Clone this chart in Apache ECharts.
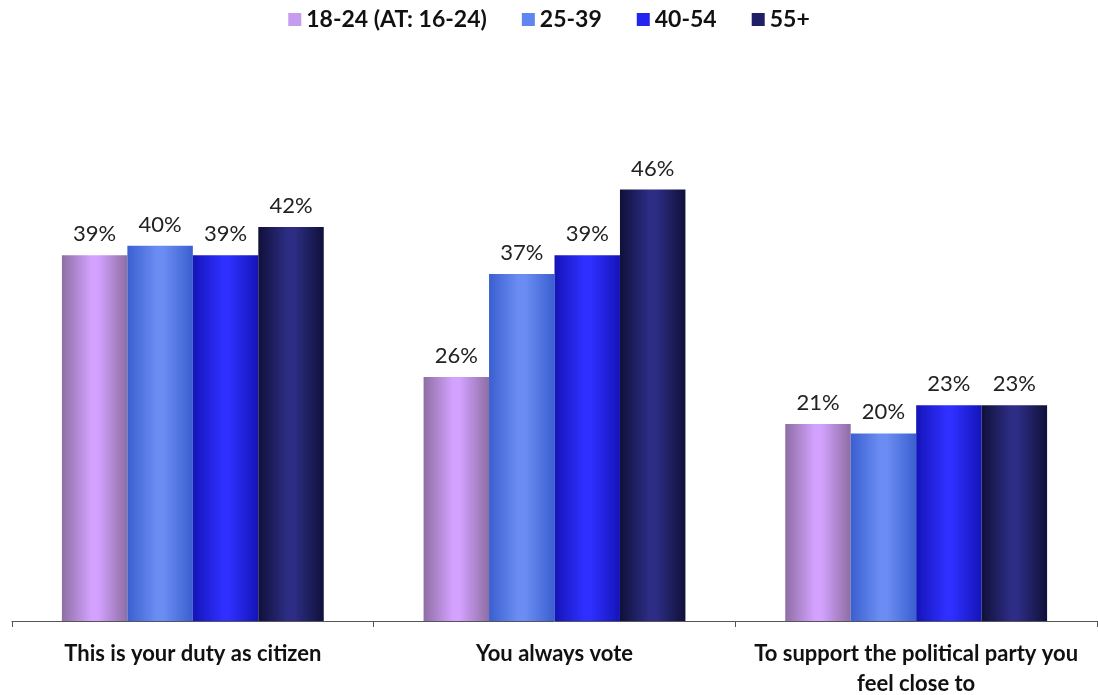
<!DOCTYPE html>
<html><head><meta charset="utf-8">
<script src="https://cdn.jsdelivr.net/npm/echarts@6/dist/echarts.min.js"></script>
<style>html,body{margin:0;padding:0;background:#fff}#c{width:1098px;height:695px}</style>
</head><body><div id="c"></div>
<script>
const categories = ["This is your duty as citizen", "You always vote", "To support the political party you\nfeel close to"];
const seriesNames = ["18-24 (AT: 16-24)", "25-39", "40-54", "55+"];
const s1824 = [39, 26, 21];
const s2539 = [40, 37, 20];
const s4054 = [39, 39, 23];
const s55 = [42, 46, 23];

const values = [s1824, s2539, s4054, s55];
const grads = [
  ['#8e6ea3', '#d3a2ff', '#8e6ea3'],
  ['#3a5fcf', '#6b8df3', '#3a5fcf'],
  ['#1414b8', '#2f2fff', '#1414b8'],
  ['#10103a', '#2d2d85', '#10103a']
];
const legendColors = ['#c69cf0', '#5f85ee', '#2424f0', '#1f1f66'];
function grad(c){
  return new echarts.graphic.LinearGradient(0,0,1,0,[
    {offset:0,color:c[0]},{offset:0.45,color:c[1]},{offset:0.55,color:c[1]},{offset:1,color:c[2]}]);
}
const chart = echarts.init(document.getElementById('c'));
chart.setOption({
  animation:false,
  textStyle:{fontFamily:'Lato, "Open Sans", sans-serif'},
  legend:{top:3,left:'center',itemWidth:13,itemHeight:13,itemGap:35,
    icon:'rect',
    textStyle:{fontSize:23,fontWeight:'bold',color:'#111',fontFamily:'Lato, sans-serif'},
    data:seriesNames.map((n,i)=>({name:n,itemStyle:{color:legendColors[i]}}))},
  grid:{left:12,right:1,top:152,bottom:74,containLabel:false,outerBoundsMode:'none'},
  xAxis:{type:'category',data:categories,
    axisLine:{lineStyle:{color:'#555',width:1}},
    axisTick:{show:true,length:6,lineStyle:{color:'#555'}},
    axisLabel:{fontSize:22,fontWeight:'bold',color:'#111',margin:18,lineHeight:30,interval:0}},
  yAxis:{type:'value',min:0,max:50,show:false,splitLine:{show:false}},
  series:seriesNames.map((n,i)=>({
    name:n,type:'bar',data:values[i],barGap:'0%',barCategoryGap:'27.6%',
    itemStyle:{color:grad(grads[i])},
    label:{show:true,position:'top',formatter:'{c}%',fontSize:22,color:'#222',distance:10}
  }))
});
</script></body></html>
